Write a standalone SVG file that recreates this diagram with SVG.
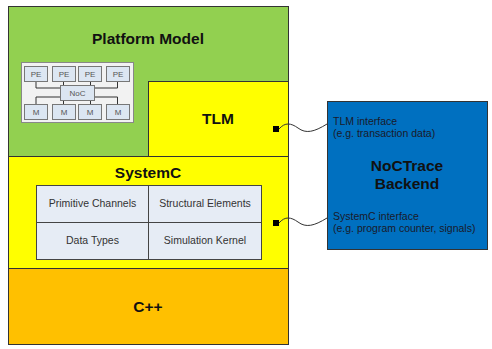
<svg xmlns="http://www.w3.org/2000/svg" width="492" height="349" viewBox="0 0 492 349">
<style>
.layer{stroke:#333;stroke-width:1}
.big{font-family:"Liberation Sans",Arial,sans-serif;font-weight:bold;font-size:15.5px;fill:#111;text-anchor:middle}
.cell{fill:#e6ecf5;stroke:#444;stroke-width:1}
.ct{font-family:"Liberation Sans",Arial,sans-serif;font-size:10.5px;fill:#333;text-anchor:middle}
.chip{fill:#dce6f2;stroke:#777;stroke-width:1}
.cht{font-family:"Liberation Sans",Arial,sans-serif;font-size:8px;fill:#555;text-anchor:middle}
.it{font-family:"Liberation Sans",Arial,sans-serif;font-size:10.5px;fill:#1a1a2a}
.wire{fill:none;stroke:#333;stroke-width:1}
</style>
<rect width="492" height="349" fill="#fff"/>
<g id="platform">
<rect class="layer" x="8.5" y="6.5" width="280" height="150" fill="#92d050"/>
<text class="big" x="148" y="44">Platform Model</text>
</g>
<g id="chip">
<rect x="21.5" y="62.5" width="112" height="60" fill="#f2f2f2" stroke="#888"/>
<g class="wire" stroke="#444">
<path d="M36,82 V88 H60 M95,88 H117.5 V82 M63.5,82 V85 M90.5,82 V85 M63.5,100 V104 M90.5,100 V104 M60,97 H36 V104 M95,97 H117.5 V104"/>
</g>
<rect class="chip" x="24.5" y="66.5" width="23" height="15"/>
<rect class="chip" x="52.5" y="66.5" width="23" height="15"/>
<rect class="chip" x="78.5" y="66.5" width="23" height="15"/>
<rect class="chip" x="106.5" y="66.5" width="23" height="15"/>
<rect class="chip" x="60.5" y="85.5" width="34" height="15"/>
<rect class="chip" x="24.5" y="104.5" width="23" height="15"/>
<rect class="chip" x="52.5" y="104.5" width="23" height="15"/>
<rect class="chip" x="78.5" y="104.5" width="23" height="15"/>
<rect class="chip" x="106.5" y="104.5" width="23" height="15"/>
<text class="cht" x="36" y="77">PE</text>
<text class="cht" x="64" y="77">PE</text>
<text class="cht" x="90" y="77">PE</text>
<text class="cht" x="118" y="77">PE</text>
<text class="cht" x="77.5" y="96">NoC</text>
<text class="cht" x="36" y="115">M</text>
<text class="cht" x="64" y="115">M</text>
<text class="cht" x="90" y="115">M</text>
<text class="cht" x="118" y="115">M</text>
</g>
<g id="tlm">
<rect class="layer" x="148.5" y="81.5" width="140" height="75" fill="#ffff00"/>
<text class="big" x="218" y="124">TLM</text>
<rect x="273" y="126" width="6" height="6" fill="#000"/>
</g>
<g id="systemc">
<rect class="layer" x="8.5" y="156.5" width="280" height="112" fill="#ffff00"/>
<text class="big" x="148" y="178">SystemC</text>
<rect class="cell" x="36.5" y="185.5" width="112" height="37"/>
<rect class="cell" x="148.5" y="185.5" width="113" height="37"/>
<rect class="cell" x="36.5" y="222.5" width="112" height="37"/>
<rect class="cell" x="148.5" y="222.5" width="113" height="37"/>
<text class="ct" x="92.5" y="207">Primitive Channels</text>
<text class="ct" x="205" y="207">Structural Elements</text>
<text class="ct" x="92.5" y="244">Data Types</text>
<text class="ct" x="205" y="244">Simulation Kernel</text>
<rect x="273" y="220" width="6" height="6" fill="#000"/>
</g>
<g id="cpp">
<rect class="layer" x="8.5" y="268.5" width="280" height="76" fill="#ffc000"/>
<text class="big" x="148" y="312">C++</text>
</g>
<g id="backend">
<rect x="327.5" y="101.5" width="160" height="148" fill="#0070c0" stroke="#333"/>
<text class="big" x="407" y="171">NoCTrace</text>
<text class="big" x="407" y="189">Backend</text>
<text class="it" x="333" y="125">TLM interface</text>
<text class="it" x="333" y="137">(e.g. transaction data)</text>
<text class="it" x="333" y="220">SystemC interface</text>
<text class="it" x="333" y="232">(e.g. program counter, signals)</text>
</g>
<g id="connectors">
<path class="wire" d="M279,129 C285,122 291,123 298,128 C306,134 314,132 327,124"/>
<path class="wire" d="M279,223 C285,216 291,217 298,222 C306,228 314,226 327,218"/>
</g>
</svg>
